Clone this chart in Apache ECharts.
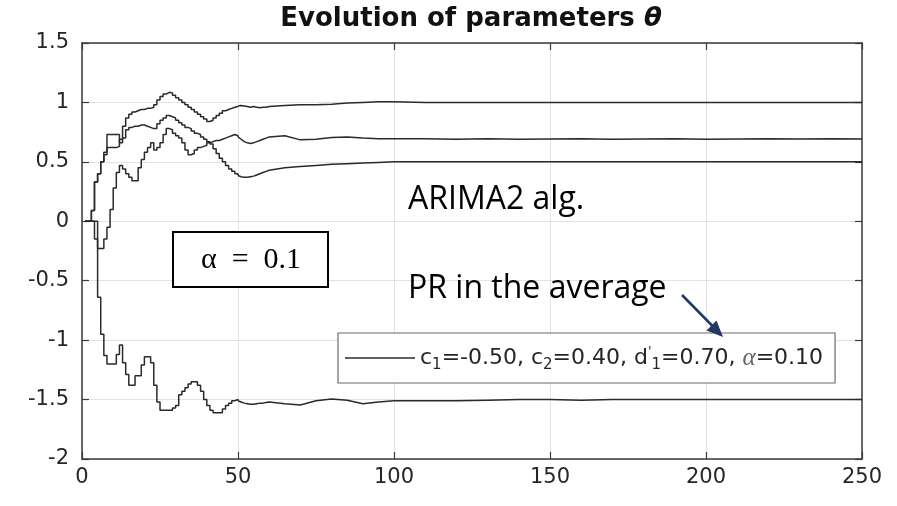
<!DOCTYPE html>
<html>
<head>
<meta charset="utf-8">
<title>Evolution of parameters</title>
<script src="https://cdn.jsdelivr.net/npm/echarts/dist/echarts.min.js"></script>
<style>
  html, body { margin: 0; padding: 0; background: #fff; }
  #chart { width: 897px; height: 506px; }
</style>
</head>
<body>
<div id="chart"></div>
<script>
// Sample index (iteration k) at which each estimate is recorded
const samples = [
  1, 2, 3, 4, 5, 6, 7, 8, 9, 10,
  11, 12, 13, 14, 15, 16, 17, 18, 19, 20,
  21, 22, 23, 24, 25, 26, 27, 28, 29, 30,
  31, 32, 33, 34, 35, 36, 37, 38, 39, 40,
  41, 42, 43, 44, 45, 46, 47, 48, 49, 50,
  51, 52, 53, 54, 55, 56, 57, 58, 59, 60,
  65, 70, 75, 80, 85, 90, 95, 100,
  110, 120, 130, 140, 150, 160, 170, 180, 190, 200, 210, 220, 230, 240, 250
];

// Parameter estimate converging to 1.0
const thetaA = [
  0, 0, 0.09, 0.33, 0.40, 0.50, 0.56, 0.62, 0.62, 0.62,
  0.63, 0.69, 0.80, 0.87, 0.90, 0.92, 0.93, 0.94, 0.94, 0.95,
  0.95, 0.96, 0.98, 1.02, 1.05, 1.07, 1.085, 1.08, 1.06, 1.04,
  1.02, 1.00, 0.98, 0.96, 0.94, 0.92, 0.90, 0.88, 0.86, 0.84,
  0.85, 0.87, 0.89, 0.91, 0.93, 0.94, 0.95, 0.96, 0.965, 0.97,
  0.975, 0.97, 0.965, 0.96, 0.965, 0.96, 0.955, 0.96, 0.96, 0.965,
  0.975, 0.98, 0.98, 0.985, 0.995, 1.0, 1.005, 1.005,
  1.0, 1.0, 1.0, 1.0, 1.0, 1.0, 1.0, 1.0, 1.0, 1.0, 1.0, 1.0, 1.0, 1.0, 1.0
];

// Parameter estimate converging to 0.7
const thetaB = [
  0, 0, 0, 0, -0.23, -0.23, -0.15, -0.05, 0.10, 0.28,
  0.41, 0.47, 0.44, 0.40, 0.37, 0.34, 0.34, 0.45, 0.52, 0.58,
  0.62, 0.66, 0.60, 0.62, 0.66, 0.73, 0.78, 0.77, 0.74, 0.72,
  0.70, 0.66, 0.60, 0.56, 0.57, 0.60, 0.62, 0.63, 0.64, 0.66,
  0.67, 0.68, 0.68, 0.69, 0.70, 0.71, 0.72, 0.73, 0.72, 0.71,
  0.69, 0.67, 0.66, 0.655, 0.66, 0.67, 0.68, 0.69, 0.70, 0.71,
  0.72, 0.685, 0.69, 0.705, 0.71, 0.70, 0.695, 0.695,
  0.695, 0.69, 0.695, 0.69, 0.693, 0.695, 0.69, 0.693, 0.695, 0.69, 0.693, 0.695, 0.692, 0.694, 0.693
];

// Parameter estimate converging to 0.5
const thetaC = [
  0, 0, 0.09, 0.33, 0.40, 0.50, 0.58, 0.73, 0.73, 0.73,
  0.73, 0.66, 0.70, 0.77, 0.79, 0.80, 0.80, 0.81, 0.81, 0.80,
  0.79, 0.78, 0.78, 0.82, 0.85, 0.87, 0.89, 0.88, 0.87, 0.85,
  0.83, 0.81, 0.79, 0.78, 0.76, 0.74, 0.73, 0.71, 0.69, 0.67,
  0.65, 0.61, 0.57, 0.53, 0.50, 0.47, 0.44, 0.42, 0.40, 0.385,
  0.375, 0.37, 0.37, 0.375, 0.38, 0.39, 0.40, 0.41, 0.42, 0.43,
  0.45, 0.46, 0.47, 0.48, 0.485, 0.49, 0.495, 0.5,
  0.5, 0.5, 0.5, 0.5, 0.5, 0.5, 0.5, 0.5, 0.5, 0.5, 0.5, 0.5, 0.5, 0.5, 0.5
];

// Parameter estimate converging to -1.5
const thetaD = [
  0, 0, 0, -0.15, -0.64, -0.95, -1.13, -1.20, -1.20, -1.20,
  -1.12, -1.04, -1.19, -1.29, -1.38, -1.38, -1.30, -1.30, -1.21, -1.14,
  -1.14, -1.19, -1.38, -1.52, -1.59, -1.59, -1.59, -1.59, -1.57, -1.55,
  -1.46, -1.43, -1.40, -1.37, -1.35, -1.35, -1.38, -1.43, -1.50, -1.55,
  -1.59, -1.61, -1.61, -1.61, -1.58, -1.55, -1.53, -1.51, -1.50, -1.51,
  -1.52, -1.53, -1.535, -1.54, -1.54, -1.535, -1.53, -1.53, -1.525, -1.52,
  -1.535, -1.545, -1.51, -1.495, -1.505, -1.535, -1.52, -1.51,
  -1.51, -1.51, -1.505, -1.5, -1.5, -1.505, -1.5, -1.5, -1.5, -1.5, -1.5, -1.5, -1.5, -1.5, -1.5
];

// Axis ticks
const xTicks = [0, 50, 100, 150, 200, 250];
const yTicks = [-2, -1.5, -1, -0.5, 0, 0.5, 1, 1.5];

// Early iterations are drawn as a staircase, later ones as a plain polyline
const stairsEnd = 50;

const legendName = 'c1=-0.50, c2=0.40, d1=0.70, alpha=0.10';
const lineColor = '#2a2a2a';

const pairs = vals => samples.map((k, i) => [k, vals[i]]);

function curveSeries(vals) {
  const all = pairs(vals);
  const common = {
    name: legendName,
    type: 'line',
    symbol: 'none',
    xAxisIndex: 0,
    yAxisIndex: 0,
    lineStyle: { color: lineColor, width: 1.5 },
    itemStyle: { color: lineColor },
    emphasis: { disabled: true }
  };
  return [
    Object.assign({}, common, { step: 'end', data: all.filter(p => p[0] <= stairsEnd) }),
    Object.assign({}, common, { data: all.filter(p => p[0] >= stairsEnd) })
  ];
}

const axisColor = '#3a3a3a';
const labelFont = 'DejaVu Sans';

const chart = echarts.init(document.getElementById('chart'), null, { renderer: 'canvas' });

chart.setOption({
  animation: false,
  backgroundColor: '#ffffff',
  title: {
    text: 'Evolution of parameters {t|θ}',
    left: 471,
    top: 6,
    padding: 0,
    textAlign: 'center',
    textStyle: {
      fontFamily: labelFont,
      fontWeight: 'bold',
      fontSize: 26,
      color: '#111',
      rich: {
        t: { fontFamily: labelFont, fontWeight: 'bold', fontStyle: 'italic', fontSize: 26, color: '#111' }
      }
    }
  },
  grid: { left: 82, right: 35, top: 43, bottom: 47, containLabel: false },
  legend: {
    data: [legendName],
    left: 338,
    top: 333,
    padding: [10, 12, 10, 7],
    icon: 'rect',
    itemWidth: 70,
    itemHeight: 1.5,
    selectedMode: false,
    backgroundColor: '#ffffff',
    borderColor: '#6a6a6a',
    borderWidth: 1.2,
    borderRadius: 0,
    formatter: () => '{n|c}{s|1}{n|=-0.50, c}{s|2}{n|=0.40, d}{p|\'}{s|1}{n|=0.70, }{a|α}{n|=0.10}',
    textStyle: {
      fontFamily: labelFont,
      fontSize: 22,
      color: '#262626',
      rich: {
        n: { fontFamily: labelFont, fontSize: 22, color: '#262626', lineHeight: 30 },
        s: { fontFamily: labelFont, fontSize: 15, color: '#262626', lineHeight: 30, verticalAlign: 'bottom', padding: [0, 0, 0, 0] },
        p: { fontFamily: labelFont, fontSize: 13, color: '#262626', lineHeight: 30, verticalAlign: 'top', padding: [2, 0, 0, 0] },
        a: { fontFamily: 'Liberation Serif', fontStyle: 'italic', fontSize: 25, color: '#666', lineHeight: 30 }
      }
    }
  },
  xAxis: [
    {
      type: 'value',
      position: 'bottom',
      min: xTicks[0],
      max: xTicks[xTicks.length - 1],
      interval: xTicks[1] - xTicks[0],
      axisLine: { show: true, onZero: false, lineStyle: { color: axisColor, width: 1.5 } },
      axisTick: { show: true, inside: true, length: 7, lineStyle: { color: axisColor, width: 1.2 } },
      axisLabel: { color: '#262626', fontFamily: labelFont, fontSize: 21, margin: 8 },
      splitLine: { show: true, lineStyle: { color: '#e2e2e2', width: 1 } }
    },
    {
      type: 'value',
      position: 'top',
      min: xTicks[0],
      max: xTicks[xTicks.length - 1],
      interval: xTicks[1] - xTicks[0],
      axisLine: { show: true, onZero: false, lineStyle: { color: axisColor, width: 1.5 } },
      axisTick: { show: true, inside: true, length: 7, lineStyle: { color: axisColor, width: 1.2 } },
      axisLabel: { show: false },
      splitLine: { show: false }
    }
  ],
  yAxis: [
    {
      type: 'value',
      position: 'left',
      min: yTicks[0],
      max: yTicks[yTicks.length - 1],
      interval: yTicks[1] - yTicks[0],
      axisLine: { show: true, onZero: false, lineStyle: { color: axisColor, width: 1.5 } },
      axisTick: { show: true, inside: true, length: 7, lineStyle: { color: axisColor, width: 1.2 } },
      axisLabel: { color: '#262626', fontFamily: labelFont, fontSize: 21, margin: 13 },
      splitLine: { show: true, lineStyle: { color: '#e2e2e2', width: 1 } }
    },
    {
      type: 'value',
      position: 'right',
      min: yTicks[0],
      max: yTicks[yTicks.length - 1],
      interval: yTicks[1] - yTicks[0],
      axisLine: { show: true, onZero: false, lineStyle: { color: axisColor, width: 1.5 } },
      axisTick: { show: true, inside: true, length: 7, lineStyle: { color: axisColor, width: 1.2 } },
      axisLabel: { show: false },
      splitLine: { show: false }
    }
  ],
  series: [].concat(
    curveSeries(thetaA),
    curveSeries(thetaB),
    curveSeries(thetaC),
    curveSeries(thetaD)
  ),
  graphic: [
    {
      type: 'rect',
      z: 100,
      shape: { x: 173, y: 232, width: 155, height: 55 },
      style: { fill: '#ffffff', stroke: '#000000', lineWidth: 2 }
    },
    {
      type: 'text',
      z: 101,
      x: 251,
      y: 260,
      style: {
        text: 'α\u2002=\u20020.1',
        fontFamily: 'Liberation Serif',
        fontSize: 30,
        fill: '#000000',
        align: 'center',
        verticalAlign: 'middle'
      }
    },
    {
      type: 'text',
      z: 101,
      x: 408,
      y: 200,
      style: {
        text: 'ARIMA2 alg.',
        fontFamily: 'Open Sans',
        fontSize: 32,
        fill: '#000000',
        align: 'left',
        verticalAlign: 'middle'
      }
    },
    {
      type: 'text',
      z: 101,
      x: 408,
      y: 289,
      style: {
        text: 'PR in the average',
        fontFamily: 'Open Sans',
        fontSize: 32,
        fill: '#000000',
        align: 'left',
        verticalAlign: 'middle'
      }
    },
    {
      type: 'line',
      z: 102,
      shape: { x1: 682, y1: 295, x2: 713, y2: 326.5 },
      style: { stroke: '#1f3864', lineWidth: 2.5 }
    },
    {
      type: 'polygon',
      z: 102,
      shape: { points: [[723, 337], [706.5, 330.5], [716.5, 320.5]] },
      style: { fill: '#1f3864' }
    }
  ]
});
</script>
</body>
</html>
